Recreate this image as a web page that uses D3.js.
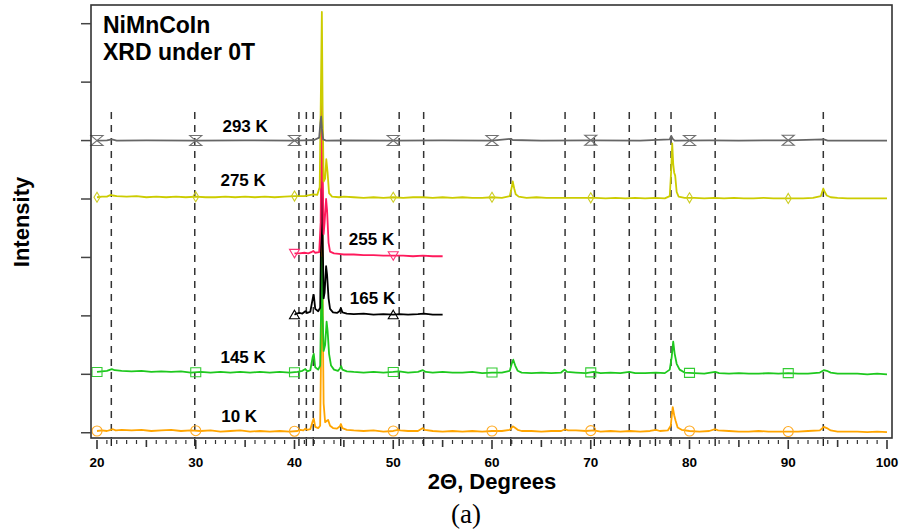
<!DOCTYPE html>
<html>
<head>
<meta charset="utf-8">
<script src="https://cdn.jsdelivr.net/npm/d3@7"></script>
<style>
  body { margin: 0; background: #fff; }
  svg { display: block; }
</style>
</head>
<body>
<svg id="chart" width="903" height="531"></svg>
<script>
// XRD patterns of NiMnCoIn at several temperatures (zero field), stacked by offset.
const temps   = ["10 K", "145 K", "165 K", "255 K", "275 K", "293 K"];
const offsets = [0, 1, 2, 3, 4, 5];

// Intensity traces: [2θ (deg), relative intensity above offset]
const trace10K = [
  [20,0.03],[20.5,0.04],[21,0.03],[21.4,0.05],[21.6,0.06],[21.9,0.04],[22.5,0.05],[23.5,0.04],[24.5,0.05],
  [25.5,0.03],[26.5,0.04],[27.5,0.05],[28.5,0.03],[29.5,0.04],[30.5,0.03],[31.5,0.04],[32.5,0.02],[33.5,0.03],
  [34.5,0.04],[35.5,0.02],[36.5,0.03],[37.5,0.02],[38.5,0.03],[39.5,0.02],[40.3,0.03],[40.6,0.05],[40.9,0.04],
  [41.1,0.07],[41.3,0.05],[41.6,0.06],[41.85,0.2],[41.95,0.24],[42.1,0.1],[42.4,0.08],[42.6,0.12],[42.7,1.5],
  [42.78,6.1],[42.86,2.0],[42.95,0.5],[43.1,0.18],[43.25,0.2],[43.4,0.22],[43.6,0.12],[43.9,0.08],[44.3,0.07],
  [44.6,0.11],[44.7,0.15],[44.85,0.08],[45.3,0.05],[46,0.04],[47,0.03],[48,0.04],[49,0.02],[50,0.03],
  [50.5,0.05],[50.7,0.04],[51.5,0.03],[52.5,0.03],[53.0,0.08],[53.2,0.05],[54,0.03],[55,0.02],[56,0.03],
  [57,0.02],[58,0.03],[59,0.02],[60,0.03],[61,0.03],[61.8,0.05],[62.1,0.11],[62.3,0.09],[62.6,0.05],[63,0.03],
  [64,0.03],[65,0.02],[66,0.03],[67,0.03],[67.4,0.06],[67.7,0.04],[68.5,0.04],[69.5,0.03],[70.3,0.04],[71,0.02],
  [72,0.03],[73,0.02],[74,0.03],[75,0.02],[76,0.03],[76.6,0.05],[77,0.03],[77.8,0.04],[78.1,0.12],[78.3,0.44],
  [78.45,0.3],[78.6,0.2],[78.8,0.09],[79.2,0.05],[80,0.03],[81,0.02],[82,0.03],[82.6,0.06],[82.9,0.04],[84,0.03],
  [85,0.02],[86,0.02],[87,0.03],[88,0.02],[89,0.02],[90,0.02],[91,0.02],[92,0.03],[93.2,0.04],[93.6,0.1],
  [93.9,0.08],[94.3,0.04],[95,0.02],[96,0.02],[97,0.02],[98,0.01],[99,0.02],[100,0.01]
];
const trace145K = [
  [20,0.04],[20.5,0.05],[21,0.06],[21.5,0.09],[21.8,0.07],[22.5,0.06],[23.5,0.05],[24.5,0.06],[25.5,0.04],
  [26.5,0.05],[27.5,0.04],[28.5,0.05],[29.5,0.03],[30.5,0.04],[31.5,0.03],[32.5,0.04],[33.5,0.03],[34.5,0.04],
  [35.5,0.03],[36.5,0.04],[37.5,0.03],[38.5,0.04],[39.5,0.03],[40.3,0.04],[40.8,0.06],[41.1,0.09],[41.3,0.05],
  [41.6,0.07],[41.85,0.3],[41.95,0.35],[42.1,0.12],[42.4,0.08],[42.6,0.15],[42.7,1.2],[42.77,2.0],[42.85,1.0],
  [42.95,0.4],[43.1,0.5],[43.25,0.9],[43.35,0.75],[43.5,0.35],[43.7,0.15],[44.0,0.08],[44.4,0.06],[44.6,0.1],
  [44.72,0.14],[44.85,0.08],[45.3,0.05],[46,0.04],[47,0.03],[48,0.04],[49,0.03],[50,0.04],[50.6,0.05],
  [51.5,0.03],[52.5,0.04],[53.0,0.07],[53.3,0.04],[54,0.03],[55,0.04],[56,0.03],[57,0.03],[58,0.04],[59,0.02],
  [60,0.03],[61,0.03],[61.8,0.06],[62.0,0.18],[62.15,0.25],[62.35,0.15],[62.6,0.06],[63,0.03],[64,0.02],
  [65,0.03],[66,0.02],[67,0.03],[67.35,0.08],[67.6,0.04],[68.5,0.03],[69.5,0.02],[70.3,0.04],[71,0.02],
  [72,0.03],[73,0.02],[73.9,0.04],[74.5,0.02],[75.5,0.02],[76.6,0.03],[77.5,0.02],[78.0,0.08],[78.2,0.3],
  [78.35,0.56],[78.5,0.35],[78.7,0.18],[79,0.08],[79.5,0.03],[80.5,0.02],[81.5,0.01],[82.6,0.04],[83,0.02],
  [84,0.01],[85,0.02],[86,0.01],[87,0.01],[88,0.02],[89,0.01],[90,0.02],[91,0.01],[92,0.01],[93.2,0.03],
  [93.6,0.07],[93.9,0.06],[94.3,0.03],[95,0.01],[96,0.01],[97,0.01],[98,0.0],[99,0.01],[100,0.0]
];
const trace165K = [
  [40,0.02],[40.2,0.04],[40.5,0.05],[40.8,0.04],[41.1,0.08],[41.3,0.05],[41.6,0.07],[41.85,0.3],[41.95,0.36],
  [42.1,0.12],[42.4,0.08],[42.6,0.14],[42.7,1.5],[42.78,2.45],[42.85,1.4],[42.95,0.3],[43.05,0.4],[43.2,0.85],
  [43.3,0.7],[43.45,0.3],[43.6,0.12],[43.9,0.06],[44.3,0.05],[44.55,0.08],[44.7,0.13],[44.85,0.06],[45.3,0.04],
  [46,0.03],[47,0.04],[48,0.02],[49,0.03],[50,0.02],[50.6,0.03],[51.5,0.02],[52.5,0.03],[53.1,0.04],[54,0.02],
  [55,0.02]
];
const trace255K = [
  [40,0.07],[40.5,0.07],[41,0.08],[41.4,0.07],[41.7,0.09],[41.9,0.11],[42.1,0.08],[42.5,0.09],[42.65,0.6],
  [42.75,2.7],[42.85,1.5],[42.95,0.4],[43.05,0.6],[43.2,1.0],[43.3,0.8],[43.45,0.25],[43.6,0.1],[44,0.07],
  [44.5,0.06],[45,0.05],[46,0.05],[47,0.04],[48,0.04],[49,0.03],[50,0.03],[51,0.03],[52,0.02],[53,0.03],
  [54,0.02],[55,0.02]
];
const trace275K = [
  [20,0.03],[20.5,0.04],[21,0.04],[21.4,0.07],[21.6,0.06],[22,0.05],[23,0.04],[24,0.05],[25,0.03],[26,0.04],
  [27,0.03],[28,0.04],[29,0.03],[30,0.04],[31,0.03],[32,0.03],[33,0.04],[34,0.03],[35,0.04],[36,0.03],
  [37,0.04],[38,0.03],[39,0.04],[40,0.05],[41,0.05],[41.9,0.08],[42.3,0.07],[42.55,0.2],[42.7,2.2],
  [42.77,3.2],[42.85,1.5],[42.95,0.3],[43.1,0.35],[43.22,0.68],[43.35,0.45],[43.5,0.1],[43.8,0.04],[44.5,0.03],
  [45,0.04],[46,0.03],[47,0.02],[48,0.03],[49,0.02],[50,0.03],[51,0.02],[52,0.03],[53,0.03],[54,0.02],
  [55,0.03],[56,0.02],[57,0.03],[58,0.02],[59,0.02],[60,0.03],[61,0.02],[61.8,0.05],[62.0,0.2],[62.1,0.3],
  [62.25,0.18],[62.4,0.08],[62.7,0.04],[63.5,0.02],[64.5,0.03],[65.5,0.02],[66.5,0.02],[67.5,0.02],[68.5,0.02],
  [69.5,0.02],[70.5,0.02],[71.5,0.01],[72.5,0.02],[73.5,0.01],[74.5,0.02],[75.5,0.01],[76.5,0.02],[77.5,0.01],
  [78.0,0.05],[78.15,0.5],[78.25,0.95],[78.35,0.6],[78.45,0.45],[78.55,0.4],[78.7,0.12],[78.9,0.04],[79.5,0.02],
  [80.5,0.02],[81.5,0.01],[82.5,0.02],[83.5,0.01],[84.5,0.02],[85.5,0.01],[86.5,0.01],[87.5,0.02],[88.5,0.01],
  [89.5,0.01],[90.5,0.01],[91.5,0.01],[92.5,0.02],[93.3,0.05],[93.55,0.18],[93.7,0.12],[93.9,0.06],[94.3,0.03],
  [95,0.02],[96,0.01],[97,0.01],[98,0.01],[99,0.01],[100,0.01]
];
const trace293K = [
  [20,0],[21,0.005],[21.5,0.02],[22,0],[25,0.005],[30,0],[35,0.005],[40,0],[41,0.005],[42,0.01],[42.5,0.05],
  [42.62,0.3],[42.7,0.41],[42.78,0.2],[42.9,0.02],[43.2,0],[45,0.005],[50,0],[55,0.005],[60,0],[61.9,0.03],
  [62.1,0.01],[65,0],[70,0.005],[75,0],[78.0,0.02],[78.15,0.08],[78.3,0.03],[78.5,0],[82,0.005],[85,0],
  [90,0.005],[93.6,0.02],[94,0],[100,0]
];
const traces = [trace10K, trace145K, trace165K, trace255K, trace275K, trace293K];

const colors       = ["#ffa500", "#1ec81e", "#000000", "#ff1a5c", "#cccc00", "#666666"];
const markerColors = ["#ffaa22", "#33cc33", "#000000", "#ff3377", "#cccc22", "#707070"];
const markerShapes = ["circle", "square", "triangleUp", "triangleDown", "diamond", "hourglass"];
const markerFull    = [20, 30, 40, 50, 60, 70, 80, 90];
const markerPartial = [40, 50];
const markerSets   = [markerFull, markerFull, markerPartial, markerPartial, markerFull, markerFull];

// Reference reflection positions (2θ) shown as dashed guides
const refLines = [21.45, 29.9, 40.45, 41.2, 41.9, 44.68, 50.6, 53.08, 61.9, 67.4, 70.36, 73.9, 76.55, 78.13, 82.6, 93.55];

const xTickLabels = [20, 30, 40, 50, 60, 70, 80, 90, 100];
const yTickValues = [0, 1, 2, 3, 4, 5, 6, 7];

// Label anchors: [2θ, height above offset]
const labelPos = [[34.4, 0.18], [34.8, 0.19], [47.9, 0.2], [47.8, 0.21], [34.8, 0.22], [35.0, 0.15]];

const svg = d3.select("#chart");
const frame = { left: 91, right: 892, top: 5, bottom: 438 };

const x = d3.scaleLinear().domain([20, 100]).range([97, 887]);
const y = d3.scaleLinear().domain([-0.09, 7.32]).range([frame.bottom, frame.top]);

// dashed reference lines
svg.append("g").selectAll("line").data(refLines).join("line")
  .attr("x1", d => x(d)).attr("x2", d => x(d))
  .attr("y1", 112).attr("y2", frame.bottom)
  .attr("stroke", "#333").attr("stroke-width", 1.5)
  .attr("stroke-dasharray", "7,6");

// traces, lowest temperature first so warmer scans sit on top
const line = d3.line().x(d => x(d[0])).y(d => y(d[1]));
const bisect = d3.bisector(d => d[0]).left;
function valueAt(tr, xv) {
  const i = Math.max(1, Math.min(tr.length - 1, bisect(tr, xv)));
  const a = tr[i - 1], b = tr[i];
  const t = (xv - a[0]) / (b[0] - a[0]);
  return a[1] + t * (b[1] - a[1]);
}
function markerPath(shape) {
  switch (shape) {
    case "square": return "M-5,-4.5H5V4.5H-5Z";
    case "triangleUp": return "M0,-4.5L5,4H-5Z";
    case "triangleDown": return "M0,4.5L5,-4H-5Z";
    case "diamond": return "M0,-5L3,0L0,5L-3,0Z";
    case "hourglass": return "M-6,-5H6L-6,5H6Z";
    default: return null;
  }
}

traces.forEach((tr, si) => {
  const g = svg.append("g");
  const shifted = tr.map(d => [d[0], d[1] + offsets[si]]);
  g.append("path").datum(shifted)
    .attr("fill", "none").attr("stroke", colors[si])
    .attr("stroke-width", 1.8).attr("stroke-linejoin", "round")
    .attr("d", line);

  const pts = markerSets[si].map(mx => [mx, valueAt(tr, mx) + offsets[si]]);
  if (markerShapes[si] === "circle") {
    g.selectAll("circle").data(pts).join("circle")
      .attr("cx", d => x(d[0])).attr("cy", d => y(d[1])).attr("r", 5)
      .attr("fill", "none").attr("stroke", markerColors[si]).attr("stroke-width", 1.1);
  } else {
    g.selectAll("path.mk").data(pts).join("path").attr("class", "mk")
      .attr("transform", d => `translate(${x(d[0])},${y(d[1])})`)
      .attr("d", markerPath(markerShapes[si]))
      .attr("fill", "none").attr("stroke", markerColors[si]).attr("stroke-width", 1.1);
  }

  g.append("text")
    .attr("x", x(labelPos[si][0])).attr("y", y(offsets[si] + labelPos[si][1]))
    .attr("text-anchor", "middle")
    .attr("font-family", "Liberation Sans, Arial, sans-serif")
    .attr("font-weight", "bold").attr("font-size", 17)
    .text(temps[si]);
});

// plot frame
svg.append("rect")
  .attr("x", frame.left).attr("y", frame.top)
  .attr("width", frame.right - frame.left).attr("height", frame.bottom - frame.top)
  .attr("fill", "none").attr("stroke", "#333").attr("stroke-width", 1.6);

// y ticks (offset levels)
svg.append("g").selectAll("line").data(yTickValues).join("line")
  .attr("x1", frame.left - 10).attr("x2", frame.left)
  .attr("y1", d => y(d)).attr("y2", d => y(d))
  .attr("stroke", "#444").attr("stroke-width", 1.5);

// x axis ticks: minor every degree, medium every 5, major every 10, plus guide positions
const xAxisG = svg.append("g");
const minorTicks = d3.range(20, 101, 1);
xAxisG.selectAll("line.minor").data(minorTicks).join("line").attr("class", "minor")
  .attr("x1", d => x(d)).attr("x2", d => x(d))
  .attr("y1", 440).attr("y2", d => d % 10 === 0 ? 449 : (d % 5 === 0 ? 447 : 444))
  .attr("stroke", "#333").attr("stroke-width", d => d % 5 === 0 ? 1.6 : 1.2);
xAxisG.selectAll("line.guide").data(refLines).join("line").attr("class", "guide")
  .attr("x1", d => x(d)).attr("x2", d => x(d))
  .attr("y1", 439).attr("y2", 446)
  .attr("stroke", "#222").attr("stroke-width", 1.4);
xAxisG.selectAll("text").data(xTickLabels).join("text")
  .attr("x", d => x(d)).attr("y", 467)
  .attr("text-anchor", "middle")
  .attr("font-family", "Liberation Sans, Arial, sans-serif")
  .attr("font-weight", "bold").attr("font-size", 13.5)
  .text(d => d);

// titles
const title = svg.append("text")
  .attr("font-family", "Liberation Sans, Arial, sans-serif")
  .attr("font-weight", "bold").attr("font-size", 23);
title.append("tspan").attr("x", 103).attr("y", 33).text("NiMnCoIn");
title.append("tspan").attr("x", 103).attr("y", 60).text("XRD under 0T");

svg.append("text")
  .attr("x", 492).attr("y", 489)
  .attr("text-anchor", "middle")
  .attr("font-family", "Liberation Sans, Arial, sans-serif")
  .attr("font-weight", "bold").attr("font-size", 22)
  .text("2Θ, Degrees");

svg.append("text")
  .attr("transform", "translate(29,222) rotate(-90)")
  .attr("text-anchor", "middle")
  .attr("font-family", "Liberation Sans, Arial, sans-serif")
  .attr("font-weight", "bold").attr("font-size", 22)
  .text("Intensity");

svg.append("text")
  .attr("x", 466).attr("y", 523)
  .attr("text-anchor", "middle")
  .attr("font-family", "Liberation Serif, Times New Roman, serif")
  .attr("font-size", 27)
  .text("(a)");
</script>
</body>
</html>
